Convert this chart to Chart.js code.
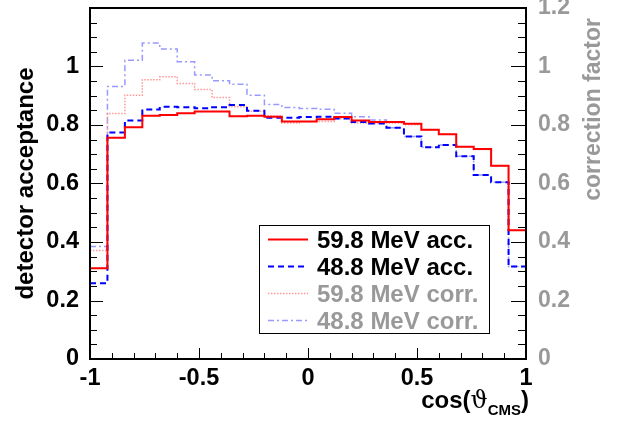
<!DOCTYPE html>
<html>
<head>
<meta charset="utf-8">
<script src="https://cdn.jsdelivr.net/npm/chart.js@4/dist/chart.umd.min.js"></script>
<style>
html, body { margin: 0; padding: 0; background: #fff; }
canvas { display: block; }
</style>
</head>
<body>
<canvas id="mycanvas" width="621" height="421"></canvas>
<script>
// 25 bins in cos(theta_CMS), width 0.08
var binEdges = [-1, -0.92, -0.84, -0.76, -0.68, -0.6, -0.52, -0.44, -0.36, -0.28, -0.2, -0.12, -0.04,
                0.04, 0.12, 0.2, 0.28, 0.36, 0.44, 0.52, 0.6, 0.68, 0.76, 0.84, 0.92, 1];

var acc598  = [0.31, 0.756, 0.792, 0.832, 0.834, 0.84, 0.846, 0.846, 0.83, 0.832, 0.828, 0.812, 0.812,
               0.82, 0.827, 0.815, 0.81, 0.81, 0.804, 0.784, 0.768, 0.726, 0.718, 0.661, 0.44];
var acc488  = [0.259, 0.774, 0.815, 0.853, 0.862, 0.861, 0.857, 0.861, 0.868, 0.849, 0.825, 0.825, 0.827,
               0.828, 0.822, 0.81, 0.805, 0.791, 0.761, 0.724, 0.732, 0.693, 0.629, 0.604, 0.316];
var corr598 = [0.371, 0.839, 0.902, 0.955, 0.965, 0.942, 0.921, 0.894, 0.862, 0.847, 0.832, 0.807, 0.812,
               0.812, 0.821, 0.807, 0.805, 0.807, 0.801, 0.782, 0.768, 0.726, 0.716, 0.659, 0.44];
var corr488 = [0.385, 0.932, 1.021, 1.08, 1.06, 1.016, 0.971, 0.951, 0.939, 0.902, 0.87, 0.86, 0.856,
               0.854, 0.84, 0.828, 0.817, 0.791, 0.761, 0.724, 0.732, 0.693, 0.629, 0.604, 0.316];

var seriesNames = ['59.8 MeV acc.', '48.8 MeV acc.', '59.8 MeV corr.', '48.8 MeV corr.'];

var xTicks = [-1, -0.5, 0, 0.5, 1];
var yTicks = [0, 0.2, 0.4, 0.6, 0.8, 1];
var y2Ticks = [0, 0.2, 0.4, 0.6, 0.8, 1, 1.2];

var GRAY = '#999999';
var FONT = '"Liberation Sans", Arial, Helvetica, sans-serif';

// histogram -> step points at the low edge of every bin, plus the last edge
function steps(vals) {
  var pts = [];
  for (var i = 0; i < vals.length; i++) pts.push({x: binEdges[i], y: vals[i]});
  pts.push({x: binEdges[vals.length], y: vals[vals.length - 1]});
  return pts;
}

function setTicks(arr) {
  return function(s) { s.ticks = arr.map(function(v) { return {value: v}; }); };
}

var rootFrame = {
  id: 'rootFrame',
  afterDraw: function(chart) {
    var c = chart.ctx, a = chart.chartArea;
    var sx = chart.scales.x, sy = chart.scales.y;
    var i, p, len;
    c.save();
    c.strokeStyle = '#000';
    c.lineWidth = 1;
    c.beginPath();
    for (i = 0; i <= 20; i++) {
      p = Math.round(sx.getPixelForValue(-1 + i * 0.1)) + 0.5;
      len = (i % 5 === 0) ? 11 : 6;
      c.moveTo(p, a.bottom); c.lineTo(p, a.bottom - len);
    }
    for (i = 0; i <= 24; i++) {
      p = Math.round(sy.getPixelForValue(i * 0.05)) + 0.5;
      len = (i % 4 === 0) ? 13 : 7;
      c.moveTo(a.left, p); c.lineTo(a.left + len, p);
      len = (i % 4 === 0) ? 15 : 8;
      c.moveTo(a.right, p); c.lineTo(a.right - len, p);
    }
    c.stroke();
    c.lineWidth = 2;
    c.strokeRect(a.left, a.top, a.right - a.left, a.bottom - a.top);

    // axis titles
    c.font = 'bold 24px ' + FONT;
    c.fillStyle = '#000';
    c.textBaseline = 'alphabetic';
    c.save();
    c.translate(33, (a.top + a.bottom) / 2);
    c.rotate(-Math.PI / 2);
    c.textAlign = 'center';
    c.fillText('detector acceptance', 0, 0);
    c.restore();

    c.save();
    c.fillStyle = GRAY;
    c.font = 'bold 23px ' + FONT;
    c.translate(600, a.top + 10);
    c.rotate(-Math.PI / 2);
    c.textAlign = 'right';
    c.fillText('correction factor', 0, 0);
    c.restore();

    // cos(theta_CMS), right aligned
    var f1 = 'bold 24px ' + FONT, f2 = '24px "DejaVu Serif", serif', f3 = 'bold 15px ' + FONT;
    c.font = f1; var w1 = c.measureText('cos(').width, w4 = c.measureText(')').width;
    c.font = f2; var w2 = c.measureText('\u03D1').width;
    c.font = f3; var w3 = c.measureText('CMS').width;
    var x0 = a.right + 3 - (w1 + w2 + w3 + w4), yb = 408;
    c.textAlign = 'left';
    c.font = f1; c.fillText('cos(', x0, yb);
    c.font = f2; c.fillText('\u03D1', x0 + w1, yb);
    c.font = f3; c.fillText('CMS', x0 + w1 + w2, yb + 7);
    c.font = f1; c.fillText(')', x0 + w1 + w2 + w3, yb);

    // legend box
    var lx = 259, ly = 225, lw = 230, lh = 108;
    c.fillStyle = '#fff';
    c.fillRect(lx, ly, lw, lh);
    c.lineWidth = 1;
    c.strokeStyle = '#000';
    c.strokeRect(lx + 0.5, ly + 0.5, lw, lh);
    c.font = 'bold 24px ' + FONT;
    c.textBaseline = 'middle';
    chart.data.datasets.forEach(function(ds, k) {
      var ry = 239 + k * 27;
      c.strokeStyle = ds.borderColor;
      c.lineWidth = ds.borderWidth;
      c.setLineDash(ds.borderDash || []);
      c.beginPath(); c.moveTo(268, ry + 0.5); c.lineTo(308, ry + 0.5); c.stroke();
      c.setLineDash([]);
      c.fillStyle = k < 2 ? '#000' : GRAY;
      c.fillText(ds.label, 317, ry + 2);
    });
    c.restore();
  }
};

var ctx = document.getElementById('mycanvas');

var histChart = new Chart(ctx, {
  type: 'line',
  data: {
    datasets: [
      { label: seriesNames[0], data: steps(acc598), borderColor: '#ff0000', borderWidth: 2, stepped: 'before' },
      { label: seriesNames[1], data: steps(acc488), borderColor: '#0000ff', borderWidth: 2, borderDash: [6, 4], stepped: 'before' },
      { label: seriesNames[2], data: steps(corr598), borderColor: '#ff9999', borderWidth: 1.5, borderDash: [1.5, 1.5], stepped: 'before' },
      { label: seriesNames[3], data: steps(corr488), borderColor: '#9999ff', borderWidth: 1.5, borderDash: [6, 3, 2, 3], stepped: 'before' }
    ]
  },
  options: {
    responsive: false,
    animation: false,
    devicePixelRatio: 1,
    layout: { padding: { top: 8, left: 0, right: 0, bottom: 0 } },
    elements: { point: { radius: 0 }, line: { tension: 0, fill: false } },
    plugins: { legend: { display: false }, tooltip: { enabled: false } },
    scales: {
      x: {
        type: 'linear', min: -1, max: 1,
        grid: { display: false }, border: { display: false },
        afterBuildTicks: setTicks(xTicks),
        ticks: { color: '#000', padding: -3, maxRotation: 0, autoSkip: false,
                 font: { family: FONT, size: 23.5, weight: 'bold' },
                 callback: function(v) { return String(v); } },
        afterFit: function(s) { s.height = 62; s.paddingLeft = 0; s.paddingRight = 0; }
      },
      y: {
        type: 'linear', position: 'left', min: 0, max: 1.2,
        grid: { display: false }, border: { display: false },
        afterBuildTicks: setTicks(yTicks),
        ticks: { color: '#000', padding: 3, autoSkip: false,
                 font: { family: FONT, size: 23.5, weight: 'bold' },
                 callback: function(v) { return String(v); } },
        afterFit: function(s) { s.width = 90; s.paddingTop = 0; s.paddingBottom = 0; }
      },
      y2: {
        type: 'linear', position: 'right', min: 0, max: 1.2,
        grid: { display: false }, border: { display: false },
        afterBuildTicks: setTicks(y2Ticks),
        ticks: { color: GRAY, padding: 4, autoSkip: false,
                 font: { family: FONT, size: 23, weight: 'bold' },
                 callback: function(v) { return String(v); } },
        afterFit: function(s) { s.width = 95; s.paddingTop = 0; s.paddingBottom = 0; }
      }
    }
  },
  plugins: [rootFrame]
});
</script>
</body>
</html>
